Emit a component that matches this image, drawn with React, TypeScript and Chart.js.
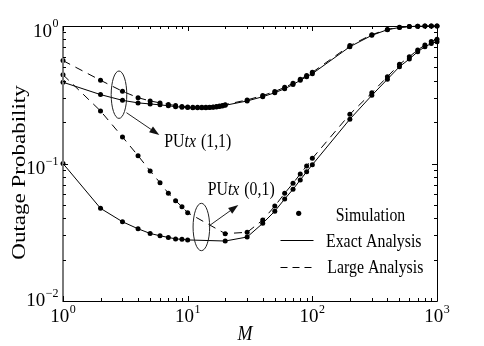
import React, { useEffect, useRef } from "react";
import { Chart, registerables } from "chart.js";
Chart.register(...registerables);

// ---- data ----
const mFine = [1, 2, 3, 4, 5, 6, 7, 8, 9, 10, 11, 12, 13, 14, 15, 16, 17, 18, 19, 20, 30, 40, 50, 60, 70, 80, 90, 100, 200, 300, 400, 500, 600, 700, 800, 900, 1000];
const mCoarse = [1, 2, 3, 4, 5, 6, 7, 8, 9, 10, 20, 30, 40, 50, 60, 70, 80, 90, 100, 200, 300, 400, 500, 600, 700, 800, 900, 1000];

const pu11Exact = [0.39, 0.317, 0.288, 0.276, 0.271, 0.267, 0.263, 0.259, 0.257, 0.255, 0.254, 0.254, 0.254, 0.254, 0.255, 0.256, 0.258, 0.26, 0.262, 0.265, 0.285, 0.306, 0.327, 0.35, 0.375, 0.403, 0.428, 0.45, 0.707, 0.855, 0.94, 0.975, 0.99, 0.995, 0.998, 0.999, 1.0];
const pu11Large = [0.56, 0.403, 0.335, 0.301, 0.285, 0.276, 0.269, 0.264, 0.26, 0.258, 0.256, 0.256, 0.256, 0.256, 0.257, 0.258, 0.26, 0.262, 0.264, 0.268, 0.29, 0.312, 0.334, 0.358, 0.383, 0.41, 0.436, 0.46, 0.72, 0.865, 0.945, 0.978, 0.99, 0.996, 0.998, 0.999, 1.0];
const pu01Exact = [0.1, 0.0472, 0.0377, 0.0335, 0.031, 0.0298, 0.029, 0.0283, 0.0281, 0.0278, 0.0273, 0.0292, 0.0367, 0.045, 0.0552, 0.0649, 0.0759, 0.0871, 0.098, 0.21, 0.313, 0.41, 0.506, 0.575, 0.65, 0.707, 0.745, 0.769];
const pu01Large = [0.442, 0.241, 0.156, 0.114, 0.0882, 0.0725, 0.0607, 0.0536, 0.0485, 0.0439, 0.0309, 0.0316, 0.0388, 0.049, 0.0607, 0.0718, 0.0839, 0.096, 0.109, 0.228, 0.327, 0.428, 0.526, 0.598, 0.669, 0.727, 0.77, 0.8];

const xTickValues = [1, 10, 100, 1000];
const yTickValues = [0.01, 0.1, 1];
const xTitle = "M";
const yTitle = "Outage Probability";
const legendLabels = ["Simulation", "Exact Analysis", "Large Analysis"];
const annot11 = ["PU", "tx", " (1,1)"];
const annot01 = ["PU", "tx", " (0,1)"];
const annot11M = 3;
const annot01M = 13;

const SERIF = "'Liberation Serif', 'Times New Roman', serif";
const BASE_FONT = `19px ${SERIF}`;
const SUP_FONT = `12px ${SERIF}`;

const pts = (xs: number[], ys: number[]) => xs.map((m, i) => ({ x: m, y: ys[i] }));

function sText(ctx: CanvasRenderingContext2D, text: string, x: number, y: number, font: string, sx = 1) {
  ctx.save();
  ctx.font = font;
  ctx.translate(x, y);
  ctx.scale(sx, 1);
  ctx.textAlign = "left";
  ctx.textBaseline = "alphabetic";
  ctx.fillText(text, 0, 0);
  const w = ctx.measureText(text).width * sx;
  ctx.restore();
  return w;
}

function drawPow(ctx: CanvasRenderingContext2D, v: number, x: number, baseY: number, align: "center" | "right") {
  const e = Math.round(Math.log10(v));
  const exp = e < 0 ? "\u2212" + String(-e) : String(e);
  ctx.font = BASE_FONT;
  const w1 = ctx.measureText("10").width;
  ctx.font = SUP_FONT;
  const w2 = ctx.measureText(exp).width;
  const total = w1 + w2 + 0.5;
  const x0 = align === "center" ? x - total / 2 : x - total;
  ctx.textAlign = "left";
  ctx.textBaseline = "alphabetic";
  ctx.font = BASE_FONT;
  ctx.fillText("10", x0, baseY);
  ctx.font = SUP_FONT;
  ctx.fillText(exp, x0 + w1 + 0.5, baseY - 9.5);
}

function arrow(ctx: CanvasRenderingContext2D, x1: number, y1: number, x2: number, y2: number) {
  const ang = Math.atan2(y2 - y1, x2 - x1);
  const hl = 10, hw = 3.5;
  const bx = x2 - hl * Math.cos(ang), by = y2 - hl * Math.sin(ang);
  ctx.beginPath();
  ctx.moveTo(x1, y1);
  ctx.lineTo(bx, by);
  ctx.stroke();
  ctx.beginPath();
  ctx.moveTo(x2, y2);
  ctx.lineTo(bx + hw * Math.sin(ang), by - hw * Math.cos(ang));
  ctx.lineTo(bx - hw * Math.sin(ang), by + hw * Math.cos(ang));
  ctx.closePath();
  ctx.fill();
}

function annotText(ctx: CanvasRenderingContext2D, parts: string[], x: number, y: number) {
  let cx = x;
  cx += sText(ctx, parts[0], cx, y, `18px ${SERIF}`, 0.88);
  cx += sText(ctx, parts[1], cx, y, `italic 18px ${SERIF}`, 0.88);
  sText(ctx, parts[2], cx + 1, y, `18px ${SERIF}`, 0.88);
}

const overlay = {
  id: "overlay",
  afterDraw(chart: any) {
    const ctx: CanvasRenderingContext2D = chart.ctx;
    const a = chart.chartArea;
    const xs = chart.scales.x;
    const ys = chart.scales.y;
    ctx.save();
    ctx.fillStyle = "#000";
    ctx.strokeStyle = "#000";
    ctx.setLineDash([]);

    // frame
    ctx.lineWidth = 1;
    ctx.beginPath();
    ctx.moveTo(a.left, a.top + 0.5);
    ctx.lineTo(a.right + 0.5, a.top + 0.5);
    ctx.lineTo(a.right + 0.5, a.bottom + 0.5);
    ctx.lineTo(a.left, a.bottom + 0.5);
    ctx.stroke();
    ctx.strokeStyle = "#7a7a7a";
    ctx.lineWidth = 2;
    ctx.beginPath();
    ctx.moveTo(a.left, a.top);
    ctx.lineTo(a.left, a.bottom + 1);
    ctx.stroke();

    // ticks (inward)
    ctx.strokeStyle = "#000";
    ctx.lineWidth = 1;
    const xMajors = xTickValues;
    const yMajors = yTickValues;
    ctx.beginPath();
    for (let d = 0; d < xMajors.length; d++) {
      const base = xMajors[d];
      for (let k = 1; k <= 9; k++) {
        const v = base * k;
        if (v > xMajors[xMajors.length - 1]) break;
        const px = Math.round(xs.getPixelForValue(v)) + 0.5;
        const len = k === 1 ? 5 : 3;
        ctx.moveTo(px, a.bottom);
        ctx.lineTo(px, a.bottom - len);
        ctx.moveTo(px, a.top);
        ctx.lineTo(px, a.top + len);
      }
    }
    for (let d = 0; d < yMajors.length; d++) {
      const base = yMajors[d];
      for (let k = 1; k <= 9; k++) {
        const v = base * k;
        if (v > yMajors[yMajors.length - 1] + 1e-9) break;
        const py = Math.round(ys.getPixelForValue(v)) + 0.5;
        const len = k === 1 ? 5 : 3;
        ctx.moveTo(a.left, py);
        ctx.lineTo(a.left + len, py);
        ctx.moveTo(a.right, py);
        ctx.lineTo(a.right - len, py);
      }
    }
    ctx.stroke();

    // tick labels
    xTickValues.forEach((v) => {
      drawPow(ctx, v, xs.getPixelForValue(v), a.bottom + 21, "center");
    });
    yTickValues.forEach((v, i) => {
      const py = ys.getPixelForValue(v);
      drawPow(ctx, v, a.left - 4.5, py + (i === 0 ? 5 : 10.5), "right");
    });

    // axis titles
    ctx.save();
    ctx.translate(25, (a.top + a.bottom) / 2 + 9);
    ctx.rotate(-Math.PI / 2);
    ctx.scale(1, 0.86);
    ctx.font = `23px ${SERIF}`;
    ctx.textAlign = "center";
    ctx.textBaseline = "alphabetic";
    ctx.fillText(yTitle, 0, 0);
    ctx.restore();

    ctx.save();
    ctx.font = `italic 20px ${SERIF}`;
    const mw = ctx.measureText(xTitle).width * 0.9;
    ctx.restore();
    sText(ctx, xTitle, (a.left + a.right) / 2 - 5 - mw / 2, 340, `italic 20px ${SERIF}`, 0.9);

    // legend
    const lf = `18px ${SERIF}`;
    ctx.beginPath();
    ctx.arc(298.7, 213.3, 2.6, 0, Math.PI * 2);
    ctx.fill();
    sText(ctx, legendLabels[0], 335.7, 220.7, lf, 0.88);
    ctx.lineWidth = 1;
    ctx.beginPath();
    ctx.moveTo(280.5, 240.5);
    ctx.lineTo(313.5, 240.5);
    ctx.stroke();
    sText(ctx, legendLabels[1], 326, 246.7, lf, 0.88);
    ctx.setLineDash([7, 5]);
    ctx.beginPath();
    ctx.moveTo(280.5, 267.5);
    ctx.lineTo(313.5, 267.5);
    ctx.stroke();
    ctx.setLineDash([]);
    sText(ctx, legendLabels[2], 327.3, 272.7, lf, 0.88);

    // annotations
    ctx.strokeStyle = "#222";
    ctx.fillStyle = "#111";
    ctx.lineWidth = 1;
    const e1x = xs.getPixelForValue(annot11M) - 3.5;
    ctx.beginPath();
    ctx.ellipse(e1x, 94.7, 7.8, 23.7, 0, 0, Math.PI * 2);
    ctx.stroke();
    arrow(ctx, e1x + 7.5, 112.7, 159.3, 135);
    ctx.fillStyle = "#000";
    annotText(ctx, annot11, 164.3, 146.7);

    const e2x = xs.getPixelForValue(annot01M) - 0.5;
    ctx.fillStyle = "#111";
    ctx.beginPath();
    ctx.ellipse(e2x, 227, 8.3, 23.7, 0, 0, Math.PI * 2);
    ctx.stroke();
    arrow(ctx, e2x + 7.5, 226, 238.3, 205);
    ctx.fillStyle = "#000";
    annotText(ctx, annot01, 207.7, 195);

    ctx.restore();
  },
};

export default function App() {
  const ref = useRef<HTMLCanvasElement | null>(null);
  useEffect(() => {
    document.body.style.margin = "0";
    const canvas = ref.current;
    if (!canvas) return;
    const lineDs = (label: string, xsArr: number[], ysArr: number[], dashed: boolean) => ({
      type: "line" as const,
      label,
      data: pts(xsArr, ysArr),
      borderColor: "#000",
      borderWidth: 1,
      borderDash: dashed ? [8, 6] : [],
      pointRadius: 0,
      tension: 0,
      fill: false,
      clip: false as any,
    });
    const simDs = (label: string, xsArr: number[], ysArr: number[]) => ({
      type: "scatter" as const,
      label,
      data: pts(xsArr, ysArr),
      showLine: false,
      pointRadius: 2.5,
      pointBackgroundColor: "#000",
      pointBorderColor: "#000",
      pointBorderWidth: 0,
      clip: false as any,
    });
    const chart = new Chart(canvas, {
      type: "line",
      data: {
        datasets: [
          lineDs("Exact PU(1,1)", mFine, pu11Exact, false),
          lineDs("Large PU(1,1)", mFine, pu11Large, true),
          lineDs("Exact PU(0,1)", mCoarse, pu01Exact, false),
          lineDs("Large PU(0,1)", mCoarse, pu01Large, true),
          simDs("Sim PU(1,1) a", mFine, pu11Exact),
          simDs("Sim PU(1,1) b", mFine, pu11Large),
          simDs("Sim PU(0,1) a", mCoarse, pu01Exact),
          simDs("Sim PU(0,1) b", mCoarse, pu01Large),
        ] as any,
      },
      options: {
        responsive: false,
        animation: false,
        devicePixelRatio: 1,
        layout: { padding: { left: 63, right: 47, top: 26, bottom: 45 } },
        scales: {
          x: { type: "logarithmic", min: 1, max: 1000, display: false },
          y: { type: "logarithmic", min: 0.01, max: 1, display: false },
        },
        plugins: { legend: { display: false }, tooltip: { enabled: false } },
        events: [],
      } as any,
      plugins: [overlay],
    });
    return () => chart.destroy();
  }, []);
  return (
    <div style={{ width: 484, height: 346, background: "#fff" }}>
      <canvas ref={ref} width={484} height={346} />
    </div>
  );
}
